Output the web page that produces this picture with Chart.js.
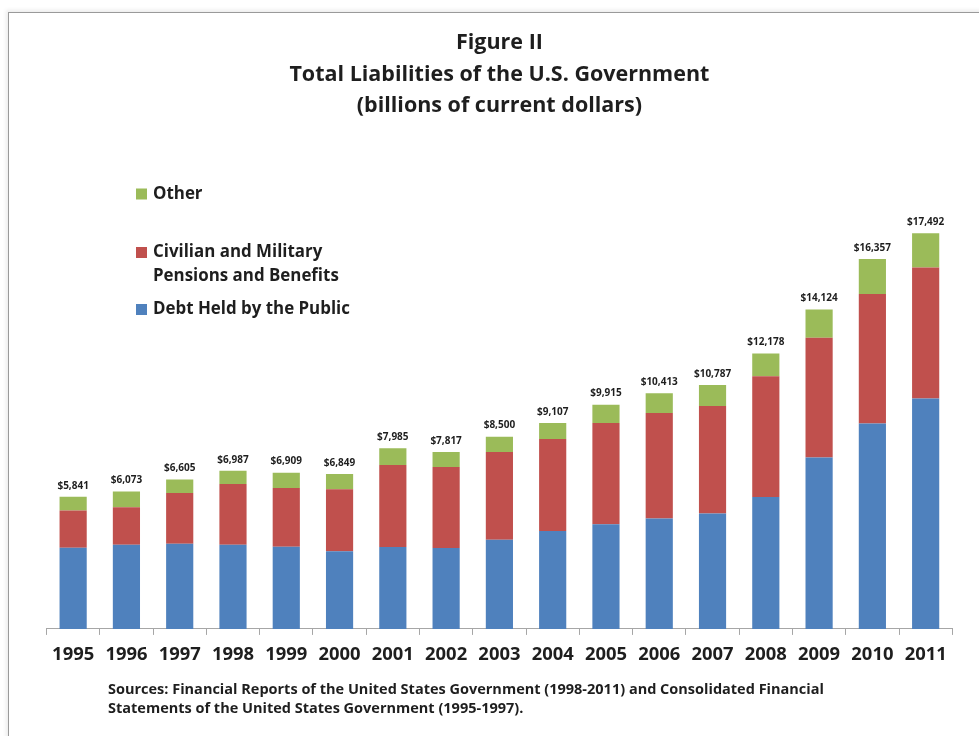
<!DOCTYPE html>
<html>
<head>
<meta charset="utf-8">
<title>Total Liabilities of the U.S. Government</title>
<script src="https://cdn.jsdelivr.net/npm/chart.js@4/dist/chart.umd.min.js"></script>
<style>
  html, body { margin: 0; padding: 0; background: #ffffff; }
  #wrap { position: relative; width: 979px; height: 736px; overflow: hidden; background: #ffffff; }
  #frame {
    position: absolute; left: 8px; top: 12px; width: 1200px; height: 1200px;
    border-left: 1.5px solid #9a9a9a; border-top: 1.5px solid #9a9a9a;
    box-shadow: -2px -2px 4px rgba(0,0,0,0.08);
  }
  #chart { position: absolute; left: 0; top: 0; }
</style>
</head>
<body>
<div id="wrap">
  <div id="frame"></div>
  <canvas id="chart" width="979" height="736"></canvas>
</div>
<script>
// Fiscal years shown on the category axis
const years = ['1995','1996','1997','1998','1999','2000','2001','2002','2003',
               '2004','2005','2006','2007','2008','2009','2010','2011'];

// Liabilities by component, billions of current dollars
const debtHeldByPublic = [3593, 3726, 3770, 3726, 3637, 3429, 3616, 3575, 3947,
                          4327, 4624, 4876, 5097, 5832, 7575, 9080, 10186];
const pensionsBenefits = [1637, 1650, 2239, 2681, 2593, 2744, 3626, 3584, 3876,
                          4071, 4482, 4673, 4761, 5341, 5292, 5721, 5796];
const otherLiabilities = [611, 697, 596, 580, 679, 676, 743, 658, 677,
                          709, 809, 864, 929, 1005, 1257, 1556, 1510];

// Series names (legend lines)
const nameDebt = ['Debt Held by the Public'];
const namePensions = ['Civilian and Military', 'Pensions and Benefits'];
const nameOther = ['Other'];

const titleLines = ['Figure II', 'Total Liabilities of the U.S. Government', '(billions of current dollars)'];
const sourceLines = [
  'Sources: Financial Reports of the United States Government (1998-2011) and Consolidated Financial',
  'Statements of the United States Government (1995-1997).'
];

const FONT = '"Open Sans", Lato, "DejaVu Sans", sans-serif';
const TEXT = '#1e1e1e';

const fmtDollars = v => '$' + v.toLocaleString('en-US');

// Totals above each stack, legend block and source note
const annotations = {
  id: 'annotations',
  afterDatasetsDraw(chart) {
    const ctx = chart.ctx;
    const yScale = chart.scales.y;
    const xScale = chart.scales.x;
    ctx.save();

    // stack totals
    ctx.font = 'bold 10px ' + FONT;
    ctx.fillStyle = TEXT;
    ctx.textAlign = 'center';
    ctx.textBaseline = 'middle';
    years.forEach((y, i) => {
      let total = 0;
      chart.data.datasets.forEach(ds => { total += ds.data[i]; });
      ctx.fillText(fmtDollars(total), xScale.getPixelForValue(i), yScale.getPixelForValue(total) - 11);
    });

    // legend (top item = top of stack)
    const entries = [
      { ds: chart.data.datasets[2], lines: nameOther, y: 194 },
      { ds: chart.data.datasets[1], lines: namePensions, y: 252.5 },
      { ds: chart.data.datasets[0], lines: nameDebt, y: 309.5 }
    ];
    ctx.font = 'bold 16.9px ' + FONT;
    ctx.textAlign = 'left';
    entries.forEach(e => {
      ctx.fillStyle = e.ds.backgroundColor;
      ctx.fillRect(136, e.y - 5.5, 11, 11);
      ctx.fillStyle = TEXT;
      e.lines.forEach((line, k) => ctx.fillText(line, 153, e.y + k * 24));
    });

    // source note
    ctx.font = 'bold 14.5px ' + FONT;
    sourceLines.forEach((line, k) => ctx.fillText(line, 108, 689.5 + k * 19.5));
    ctx.restore();
  }
};

new Chart(document.getElementById('chart'), {
  type: 'bar',
  data: {
    labels: years,
    datasets: [
      { label: nameDebt.join(' '), data: debtHeldByPublic, backgroundColor: '#4F81BD' },
      { label: namePensions.join(' '), data: pensionsBenefits, backgroundColor: '#C0504D' },
      { label: nameOther.join(' '), data: otherLiabilities, backgroundColor: '#9BBB59' }
    ]
  },
  options: {
    responsive: false,
    animation: false,
    events: [],
    datasets: { bar: { categoryPercentage: 1.0, barPercentage: 0.51 } },
    layout: { padding: { left: 46.5, right: 26.7, top: 0, bottom: 62 } },
    scales: {
      x: {
        stacked: true,
        offset: true,
        grid: { display: true, drawOnChartArea: false, drawTicks: true, tickLength: 6, color: '#a6a6a6', offset: true },
        border: { display: true, color: '#a6a6a6', width: 1 },
        ticks: { color: TEXT, font: { family: FONT, size: 18.4, weight: 'bold' }, padding: 8.5, maxRotation: 0, autoSkip: false }
      },
      y: {
        stacked: true,
        display: false,
        min: 0,
        max: 20000
      }
    },
    plugins: {
      legend: { display: false },
      tooltip: { enabled: false },
      title: {
        display: true,
        text: titleLines,
        color: TEXT,
        font: { family: FONT, size: 21.5, weight: 'bold', lineHeight: '31.5px' },
        padding: { top: 27.25, bottom: 54.75 }
      }
    }
  },
  plugins: [annotations]
});
</script>
</body>
</html>
